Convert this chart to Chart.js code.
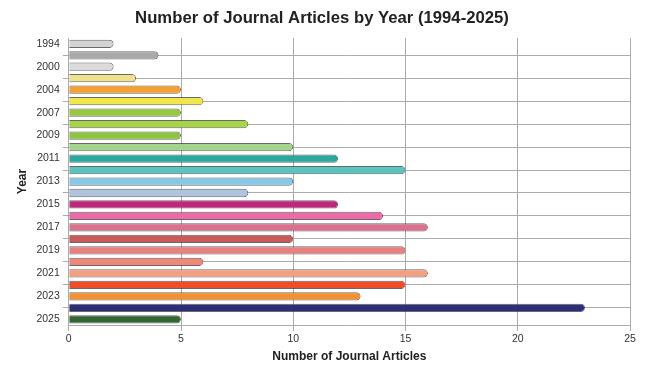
<!DOCTYPE html>
<html>
<head>
<meta charset="utf-8">
<script src="https://cdn.jsdelivr.net/npm/chart.js@4/dist/chart.umd.min.js"></script>
<style>
  html, body { margin: 0; padding: 0; background: #ffffff; }
  #wrap { width: 651px; height: 365px; position: relative; }
</style>
</head>
<body>
<div id="wrap"><canvas id="chart"></canvas></div>
<script>
// Publication years (only every other one gets a label on the axis)
const years = ['1994', '1999', '2000', '2003', '2004', '2006', '2007', '2008', '2009', '2010',
  '2011', '2012', '2013', '2014', '2015', '2016', '2017', '2018', '2019', '2020',
  '2021', '2022', '2023', '2024', '2025'];

// Journal articles published in each year
const articleCounts = [2, 4, 2, 3, 5, 6, 5, 8, 5, 10,
  12, 15, 10, 8, 12, 14, 16, 10, 15, 6,
  16, 15, 13, 23, 5];

// One fill colour per year
const barColors = ['#d3d3d3', '#a9a9a9', '#dadada', '#eee38c', '#f5a030', '#f0e84a', '#98c840', '#a8d448', '#8cc63f', '#a3d48e',
  '#2aa89c', '#5ac4be', '#86c8e8', '#b0c4de', '#c0267e', '#ee6aa8', '#d8708e', '#c85a5a', '#e88080', '#f0887a',
  '#f4a080', '#f04e28', '#f39030', '#2e2d7a', '#336633'];

const xTicks = [0, 5, 10, 15, 20, 25];

const FONT = '"Liberation Sans", Arial, sans-serif';
const GRID = '#ababab';

// Labelled years sit on even indices; the guide lines run through the unlabelled ones
const isLabelled = (i) => i % 2 === 0;

new Chart(document.getElementById('chart'), {
  type: 'bar',
  data: {
    labels: years,
    datasets: [{
      data: articleCounts,
      backgroundColor: barColors,
      borderColor: 'rgba(55,55,55,0.75)',
      borderWidth: 1,
      borderRadius: 10,
      borderSkipped: 'start',
      barPercentage: 0.8,
      categoryPercentage: 0.9
    }]
  },
  options: {
    indexAxis: 'y',
    responsive: true,
    maintainAspectRatio: false,
    animation: false,
    layout: { padding: { left: 14, right: 21, top: 5, bottom: 0 } },
    plugins: {
      legend: { display: false },
      tooltip: { enabled: false },
      title: {
        display: true,
        text: 'Number of Journal Articles by Year (1994-2025)',
        color: '#222222',
        font: { family: FONT, size: 16.7, weight: 'bold' },
        padding: { top: 3, bottom: 10 }
      }
    },
    scales: {
      x: {
        min: 0,
        max: 25,
        afterBuildTicks: (axis) => { axis.ticks = xTicks.map(v => ({ value: v })); },
        grid: { color: GRID, tickLength: 6 },
        border: { color: GRID },
        ticks: { color: '#333333', font: { family: FONT, size: 10.5 }, padding: 2 },
        title: {
          display: true,
          text: 'Number of Journal Articles',
          color: '#222222',
          font: { family: FONT, size: 12, weight: 'bold' },
          padding: { top: 2, bottom: 1 }
        }
      },
      y: {
        offset: true,
        grid: {
          offset: false,
          tickLength: 6,
          color: (ctx) => (isLabelled(ctx.index) ? 'rgba(0,0,0,0)' : GRID)
        },
        border: { color: GRID },
        ticks: {
          color: '#333333',
          font: { family: FONT, size: 10.5 },
          padding: 3,
          autoSkip: false,
          callback: (value, index) => (isLabelled(index) ? years[index] : '')
        },
        title: {
          display: true,
          text: 'Year',
          color: '#222222',
          font: { family: FONT, size: 12, weight: 'bold' },
          padding: { top: 1, bottom: 4 }
        }
      }
    }
  }
});
</script>
</body>
</html>
